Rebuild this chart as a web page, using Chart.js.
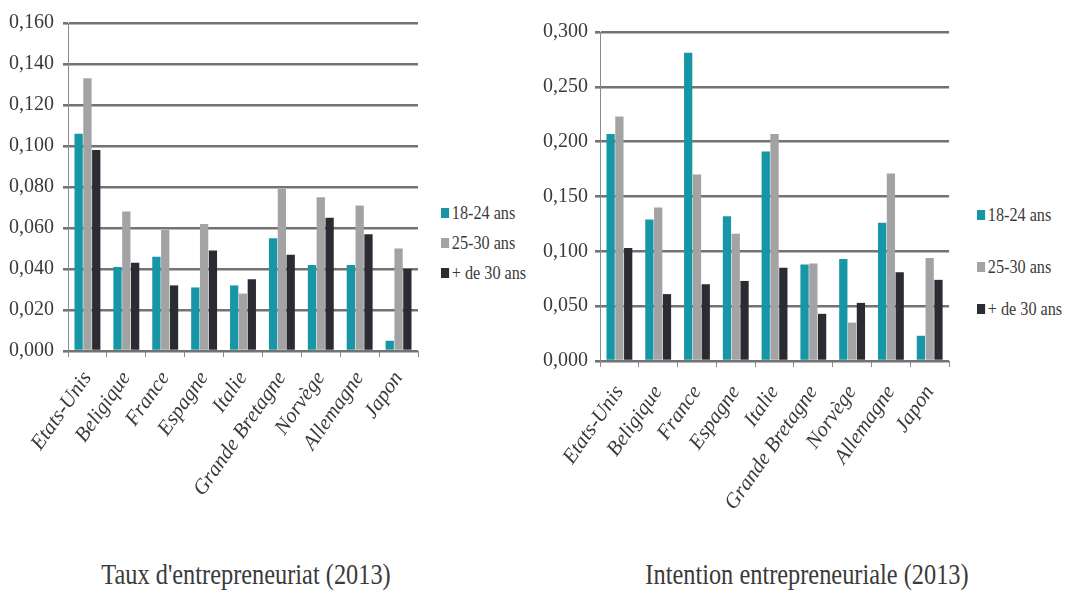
<!DOCTYPE html>
<html>
<head>
<meta charset="utf-8">
<script src="https://cdn.jsdelivr.net/npm/chart.js@4.4.0/dist/chart.umd.min.js"></script>
<style>
  html, body { margin: 0; padding: 0; background: #fff; }
  body { width: 1071px; height: 603px; position: relative; overflow: hidden;
         font-family: 'Liberation Serif', 'DejaVu Serif', serif; color: #3a3a3a; }
  .box { position: absolute; top: 0; width: 430px; height: 540px; }
  .title { position: absolute; top: 558px; font-size: 29px; white-space: nowrap;
           transform: translateX(-50%) scaleX(0.84); transform-origin: center; }
  .legend { position: absolute; font-size: 18px; }
  .legend div { position: absolute; white-space: nowrap; line-height: 20px;
                transform: scaleX(0.9); transform-origin: left center; }
  .legend span { display: inline-block; width: 9px; height: 10px; margin-right: 3px; vertical-align: 1px; }
</style>
</head>
<body>
<div class="box" style="left:0"><canvas id="leftChart"></canvas></div>
<div class="box" style="left:535px"><canvas id="rightChart"></canvas></div>

<div class="legend" style="left:441px; top:0">
  <div style="top:203px"><span style="background:#1797a6"></span>18-24 ans</div>
  <div style="top:233px"><span style="background:#a3a3a3"></span>25-30 ans</div>
  <div style="top:263px"><span style="background:#2b2b33"></span>+ de 30 ans</div>
</div>
<div class="legend" style="left:977px; top:0">
  <div style="top:205px"><span style="background:#1797a6"></span>18-24 ans</div>
  <div style="top:257px"><span style="background:#a3a3a3"></span>25-30 ans</div>
  <div style="top:299px"><span style="background:#2b2b33"></span>+ de 30 ans</div>
</div>

<div class="title" style="left:246px">Taux d'entrepreneuriat (2013)</div>
<div class="title" style="left:807px">Intention entrepreneuriale (2013)</div>

<script>
'use strict';

const countries = ['Etats-Unis', 'Beligique', 'France', 'Espagne', 'Italie',
  'Grande Bretagne', 'Norvège', 'Allemagne', 'Japon'];
const seriesNames = ['18-24 ans', '25-30 ans', '+ de 30 ans'];

// Taux d'entrepreneuriat (2013)
const tauxJeunes = [0.106, 0.041, 0.046, 0.031, 0.032, 0.055, 0.042, 0.042, 0.005];
const tauxMoyens = [0.133, 0.068, 0.059, 0.062, 0.028, 0.079, 0.075, 0.071, 0.050];
const tauxAines  = [0.098, 0.043, 0.032, 0.049, 0.035, 0.047, 0.065, 0.057, 0.040];
const tauxTicks = ['0,000', '0,020', '0,040', '0,060', '0,080', '0,100', '0,120', '0,140', '0,160'];

// Intention entrepreneuriale (2013)
const intentJeunes = [0.207, 0.129, 0.281, 0.132, 0.191, 0.088, 0.093, 0.126, 0.023];
const intentMoyens = [0.223, 0.140, 0.170, 0.116, 0.207, 0.089, 0.035, 0.171, 0.094];
const intentAines  = [0.103, 0.061, 0.070, 0.073, 0.085, 0.043, 0.053, 0.081, 0.074];
const intentTicks = ['0,000', '0,050', '0,100', '0,150', '0,200', '0,250', '0,300'];

const colors = ['#1797a6', '#a3a3a3', '#2b2b33'];

function buildChart(id, series, ticks, step, opts) {
  const ctx = document.getElementById(id).getContext('2d');
  return new Chart(ctx, {
    type: 'bar',
    data: {
      labels: countries,
      datasets: series.map((d, i) => ({
        label: seriesNames[i],
        data: d,
        backgroundColor: colors[i],
        borderWidth: 0,
        barPercentage: 0.94,
        categoryPercentage: 0.68,
      })),
    },
    options: {
      responsive: true,
      maintainAspectRatio: false,
      animation: false,
      layout: { padding: { left: 0, right: opts.right, top: opts.top, bottom: 0 } },
      plugins: { legend: { display: false }, tooltip: { enabled: false } },
      scales: {
        x: {
          grid: { drawOnChartArea: false, drawTicks: true, tickLength: 6, color: '#8a8a8a', lineWidth: 1, offset: true },
          border: { display: false },
          ticks: {
            color: '#3a3a3a',
            font: { family: "'Liberation Serif', serif", style: 'italic', size: 21 },
            minRotation: 55, maxRotation: 55, padding: opts.xPad, autoSkip: false,
          },
          afterFit(scale) { scale.height = opts.xHeight; },
        },
        y: {
          min: 0,
          max: step * (ticks.length - 1),
          grid: { color: '#737373', lineWidth: 2.6, drawTicks: true, tickLength: 5 },
          border: { display: true, color: '#8a8a8a', width: 1 },
          ticks: {
            stepSize: step,
            padding: opts.tickPad,
            color: '#3a3a3a',
            font: { family: "'Liberation Serif', serif", size: 20 },
            callback: (v, i) => ticks[i],
          },
          afterFit(scale) { scale.width = opts.yWidth; },
        },
      },
    },
  });
}

buildChart('leftChart', [tauxJeunes, tauxMoyens, tauxAines], tauxTicks, 0.02,
  { right: 12, top: 23, xHeight: 189, yWidth: 68, tickPad: 9, xPad: 10 });
buildChart('rightChart', [intentJeunes, intentMoyens, intentAines], intentTicks, 0.05,
  { right: 12, top: 32, xHeight: 179, yWidth: 65, tickPad: 7, xPad: 14 });
</script>
</body>
</html>
